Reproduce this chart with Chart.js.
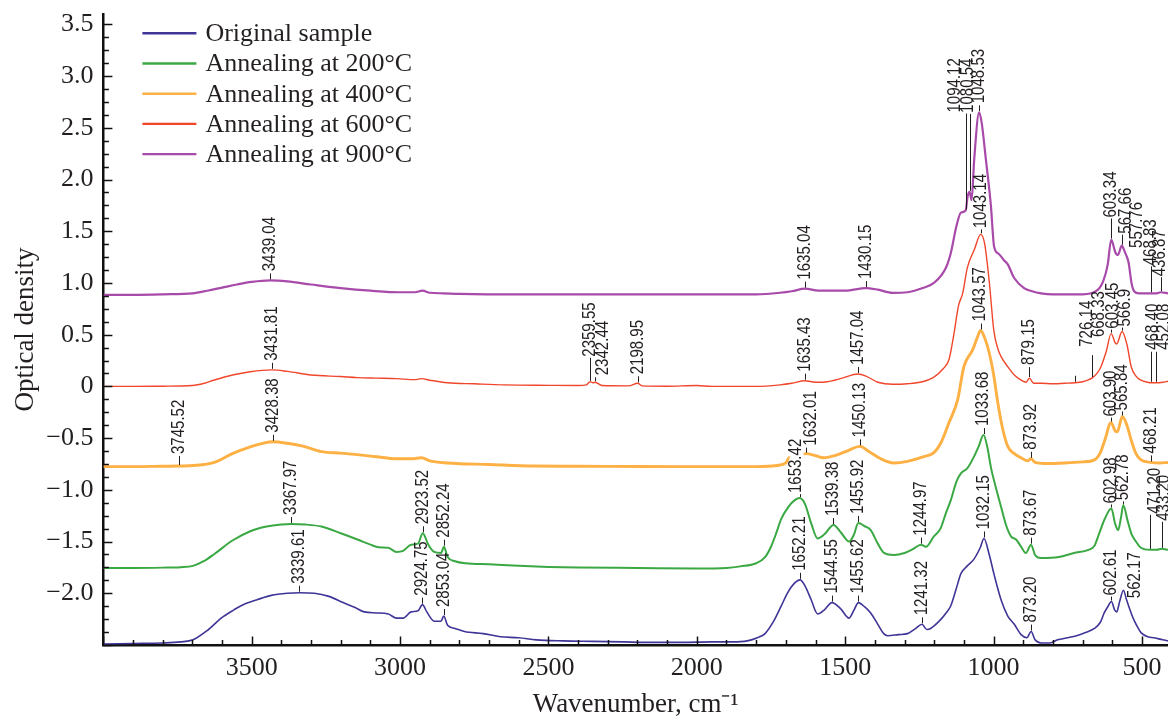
<!DOCTYPE html>
<html>
<head>
<meta charset="utf-8">
<script src="https://cdn.jsdelivr.net/npm/chart.js@4.4.1/dist/chart.umd.min.js"></script>
<style>
  html, body { margin: 0; padding: 0; background: #ffffff; }
  canvas { display: block; }
</style>
</head>
<body>
<canvas id="c" width="1168" height="718"></canvas>
<script>
// ---------------- DATA ----------------
const seriesNames = ['Original sample', 'Annealing at 200°C', 'Annealing at 400°C', 'Annealing at 600°C', 'Annealing at 900°C'];

const xTickValues = [3500, 3000, 2500, 2000, 1500, 1000, 500];
const yTickValues = [-2.0, -1.5, -1.0, -0.5, 0, 0.5, 1.0, 1.5, 2.0, 2.5, 3.0, 3.5];

// Original sample
const wnOrig = [4000, 3900, 3800, 3740, 3698, 3650, 3603, 3560, 3529, 3480, 3434, 3380, 3339.61, 3289, 3240, 3192, 3150, 3121, 3080, 3040, 3012, 2990, 2963, 2940, 2924.75, 2910, 2885, 2862, 2853.04, 2840, 2815, 2783, 2720, 2662, 2600, 2541, 2450, 2350, 2250, 2150, 2050, 1950, 1880, 1830, 1796, 1770, 1741, 1715, 1695, 1670, 1652.21, 1635, 1615, 1593, 1570, 1544.55, 1515, 1487, 1470, 1455.62, 1435, 1414, 1390, 1370, 1357, 1320, 1290, 1262, 1241.32, 1225, 1212, 1180, 1160, 1144, 1125, 1110, 1090, 1066, 1045, 1032.15, 1015, 998, 975, 952, 930, 907, 888, 873.20, 860, 840, 810, 784, 750, 720, 690, 660, 640, 627, 615, 602.61, 592, 585, 575, 562.17, 552, 545, 535, 525, 512, 503, 480, 458, 430, 412];
const odOrig = [-2.49, -2.485, -2.48, -2.47, -2.45, -2.36, -2.24, -2.16, -2.11, -2.06, -2.02, -2.0, -1.995, -2.0, -2.03, -2.09, -2.14, -2.18, -2.19, -2.20, -2.24, -2.24, -2.18, -2.17, -2.11, -2.18, -2.27, -2.27, -2.22, -2.31, -2.34, -2.37, -2.39, -2.42, -2.43, -2.45, -2.46, -2.465, -2.47, -2.475, -2.475, -2.47, -2.47, -2.46, -2.43, -2.39, -2.27, -2.12, -2.0, -1.90, -1.87, -1.93, -2.06, -2.20, -2.16, -2.09, -2.15, -2.24, -2.16, -2.09, -2.13, -2.19, -2.30, -2.39, -2.41, -2.40, -2.39, -2.34, -2.30, -2.35, -2.34, -2.26, -2.19, -2.12, -1.95, -1.81, -1.74, -1.67, -1.56, -1.47, -1.62, -1.82, -2.06, -2.22, -2.30, -2.40, -2.43, -2.37, -2.45, -2.48, -2.48, -2.45, -2.43, -2.41, -2.38, -2.34, -2.28, -2.19, -2.13, -2.08, -2.16, -2.18, -2.08, -1.97, -2.06, -2.12, -2.20, -2.27, -2.34, -2.38, -2.42, -2.43, -2.45, -2.46];

// Annealing at 200 °C
const wn200 = [4000, 3900, 3800, 3740, 3698, 3662, 3626, 3565, 3505, 3450, 3400, 3367.97, 3320, 3265, 3200, 3144, 3100, 3072, 3040, 3012, 2990, 2963, 2940, 2923.52, 2905, 2885, 2862, 2852.24, 2840, 2815, 2780, 2700, 2600, 2500, 2400, 2200, 2000, 1900, 1853, 1800, 1770, 1750, 1730, 1717, 1690, 1670, 1653.42, 1635, 1615, 1593, 1570, 1539.38, 1515, 1487, 1470, 1455.92, 1435, 1414, 1390, 1369, 1336, 1300, 1270, 1244.97, 1228, 1201, 1178, 1160, 1144, 1125, 1110, 1088, 1066, 1050, 1033.68, 1020, 1009, 992, 975, 958, 941, 924, 907, 891, 873.67, 860, 840, 780, 729, 680, 660, 645, 625, 602.98, 590, 580, 570, 562.78, 548, 536, 520, 503, 471.20, 450, 433.20, 412];
const od200 = [-1.755, -1.755, -1.752, -1.748, -1.735, -1.69, -1.62, -1.49, -1.40, -1.355, -1.335, -1.33, -1.335, -1.355, -1.42, -1.48, -1.53, -1.555, -1.56, -1.60, -1.59, -1.53, -1.52, -1.42, -1.53, -1.60, -1.61, -1.55, -1.65, -1.69, -1.71, -1.72, -1.735, -1.745, -1.75, -1.755, -1.76, -1.755, -1.74, -1.71, -1.65, -1.55, -1.40, -1.29, -1.16, -1.10, -1.08, -1.14, -1.32, -1.47, -1.43, -1.34, -1.41, -1.50, -1.43, -1.32, -1.35, -1.39, -1.52, -1.61, -1.63, -1.61, -1.57, -1.53, -1.55, -1.45, -1.37, -1.22, -1.10, -0.92, -0.84, -0.79, -0.68, -0.58, -0.47, -0.60, -0.78, -0.98, -1.16, -1.34, -1.45, -1.48, -1.55, -1.61, -1.53, -1.63, -1.66, -1.65, -1.61, -1.58, -1.54, -1.43, -1.28, -1.18, -1.33, -1.39, -1.26, -1.15, -1.30, -1.42, -1.50, -1.56, -1.58, -1.58, -1.57, -1.58];

// Annealing at 400 °C
const wn400 = [4000, 3900, 3800, 3745.52, 3700, 3660, 3626, 3565, 3505, 3460, 3428.38, 3380, 3324, 3265, 3200, 3144, 3080, 3012, 2960, 2928, 2900, 2840, 2700, 2550, 2400, 2200, 2000, 1800, 1730, 1700, 1689, 1660, 1632.01, 1600, 1572, 1530, 1490, 1450.13, 1420, 1380, 1336, 1290, 1235, 1201, 1178, 1150, 1121, 1100, 1071, 1055, 1043.57, 1030, 1015, 1000, 986, 970, 952, 930, 907, 885, 873.92, 860, 830, 760, 700, 660, 640, 625, 603.90, 590, 583, 565.84, 550, 536, 520, 503, 468.21, 440, 412];
const od400 = [-0.776, -0.776, -0.772, -0.77, -0.765, -0.755, -0.735, -0.65, -0.585, -0.548, -0.535, -0.55, -0.58, -0.63, -0.645, -0.66, -0.68, -0.70, -0.70, -0.69, -0.72, -0.74, -0.755, -0.77, -0.772, -0.775, -0.776, -0.776, -0.765, -0.74, -0.69, -0.67, -0.65, -0.67, -0.69, -0.665, -0.62, -0.58, -0.63, -0.70, -0.74, -0.725, -0.68, -0.64, -0.55, -0.35, -0.13, 0.19, 0.35, 0.47, 0.54, 0.47, 0.33, 0.12, -0.15, -0.40, -0.58, -0.65, -0.69, -0.72, -0.70, -0.735, -0.745, -0.74, -0.73, -0.71, -0.64, -0.52, -0.35, -0.43, -0.44, -0.29, -0.38, -0.52, -0.65, -0.71, -0.735, -0.74, -0.735];

// Annealing at 600 °C
const wn600 = [4000, 3900, 3800, 3700, 3660, 3626, 3565, 3505, 3431.81, 3380, 3300, 3200, 3144, 3080, 3012, 2950, 2928, 2900, 2840, 2750, 2650, 2500, 2400, 2372, 2359.55, 2350, 2342.44, 2320, 2230, 2198.95, 2185, 2100, 2000, 1950, 1800, 1720, 1680, 1635.43, 1600, 1560, 1510, 1457.04, 1430, 1390, 1340, 1290, 1240, 1201, 1170, 1150, 1135, 1118, 1104, 1088, 1065, 1043.14, 1030, 1014, 999, 985, 975, 952, 930, 907, 890, 879.15, 865, 840, 800, 760, 726.14, 700, 683, 668.33, 650, 638, 620, 603.45, 590, 585, 566.9, 550, 536, 520, 503, 480, 468.40, 452.08, 430, 412];
const od600 = [0.0, 0.0, 0.002, 0.008, 0.03, 0.062, 0.11, 0.142, 0.16, 0.145, 0.11, 0.095, 0.085, 0.08, 0.075, 0.065, 0.075, 0.06, 0.035, 0.025, 0.015, 0.01, 0.008, 0.015, 0.045, 0.035, 0.04, 0.008, 0.005, 0.03, 0.005, 0.002, 0.008, 0.0, 0.0, 0.015, 0.03, 0.055, 0.04, 0.045, 0.08, 0.12, 0.10, 0.04, 0.02, 0.025, 0.045, 0.09, 0.17, 0.26, 0.48, 0.78, 0.90, 1.15, 1.32, 1.47, 1.38, 1.00, 0.54, 0.36, 0.29, 0.19, 0.11, 0.06, 0.04, 0.08, 0.03, 0.03, 0.025, 0.03, 0.035, 0.045, 0.06, 0.08, 0.13, 0.19, 0.34, 0.51, 0.42, 0.41, 0.53, 0.40, 0.19, 0.10, 0.06, 0.04, 0.035, 0.035, 0.04, 0.05];

// Annealing at 900 °C
const wn900 = [4000, 3900, 3800, 3700, 3650, 3600, 3550, 3500, 3439.04, 3380, 3300, 3200, 3100, 3000, 2950, 2925, 2900, 2855, 2800, 2600, 2400, 2200, 2000, 1800, 1720, 1680, 1635.04, 1590, 1500, 1430.15, 1390, 1340, 1290, 1240, 1201, 1160, 1144, 1125, 1110, 1094.12, 1087, 1080.54, 1074, 1065, 1048.53, 1040, 1026, 1009, 998, 982, 965, 952, 931, 897, 870, 840, 800, 700, 650, 630, 615, 603.34, 590, 581, 567.66, 557.76, 545, 535, 526, 510, 490, 468.83, 450, 436.87, 412];
const od900 = [0.885, 0.885, 0.89, 0.90, 0.925, 0.955, 0.985, 1.01, 1.025, 1.015, 0.985, 0.95, 0.925, 0.91, 0.91, 0.925, 0.905, 0.90, 0.895, 0.89, 0.89, 0.89, 0.89, 0.89, 0.905, 0.92, 0.945, 0.925, 0.925, 0.95, 0.935, 0.905, 0.91, 0.95, 1.00, 1.15, 1.29, 1.55, 1.68, 1.70, 1.84, 1.88, 1.80, 2.20, 2.65, 2.55, 2.20, 1.75, 1.35, 1.28, 1.22, 1.18, 1.05, 0.95, 0.92, 0.90, 0.89, 0.89, 0.93, 1.02, 1.18, 1.42, 1.30, 1.27, 1.36, 1.30, 1.20, 1.00, 0.92, 0.90, 0.90, 0.90, 0.90, 0.91, 0.90];

// Peak labels (the label text is the peak wavenumber)
const peaksOrig = ['3339.61', '2924.75', '2853.04', '1652.21', '1544.55', '1455.62', '1241.32', '1032.15', '873.20', '602.61', '562.17'];
const peaks200 = ['3367.97', '2923.52', '2852.24', '1653.42', '1539.38', '1455.92', '1244.97', '1033.68', '873.67', '602.98', '562.78', '471.20', '433.20'];
const peaks400 = ['3745.52', '3428.38', '1632.01', '1450.13', '1043.57', '873.92', '603.90', '565.84', '468.21'];
const peaks600 = ['3431.81', '2359.55', '2342.44', '2198.95', '1635.43', '1457.04', '1043.14', '879.15', '726.14', '668.33', '603.45', '566.9', '468.40', '452.08'];
const peaks900 = ['3439.04', '1635.04', '1430.15', '1094.12', '1080.54', '1048.53', '603.34', '567.66', '557.76', '468.83', '436.87'];

// ---------------- STYLE ----------------
const seriesColors = ['#3f3597', '#3aa843', '#fdb043', '#f0462b', '#a84aa9'];
const seriesWidths = [1.6, 2.0, 2.9, 1.4, 2.2];
const serif = '"Liberation Serif", "Times New Roman", serif';
const inkColor = '#231f20';

// label placement tweaks: dx (text shift), lift (text start above curve), lead (leader length), bg (white box)
const labelLayout = {
  '0:602.61': {lift: 6, lead: 4},
  '0:562.17': {dx: 12, lift: -8, lead: 0},
  '1:1653.42': {dx: -3, lift: 5, lead: 3, bg: true},
  '1:602.98': {lift: 5, lead: 3},
  '1:562.78': {lift: 5, lead: 3},
  '1:471.20': {dx: 5, lift: 36, lead: 34},
  '1:433.20': {dx: 2, lift: 28, lead: 26},
  '2:3745.52': {lift: 12, lead: 9},
  '2:1632.01': {dx: 5, lift: 8, lead: 5},
  '2:603.90': {lift: 6, lead: 4},
  '2:565.84': {lift: 6, lead: 4},
  '3:2359.55': {lift: 25, lead: 23},
  '3:2342.44': {dx: 8, lift: 7, lead: 4},
  '3:1043.14': {lift: 6, lead: 4},
  '3:879.15': {lift: 13, lead: 10},
  '3:726.14': {dx: 12, lift: 36, lead: 6},
  '3:668.33': {dx: 7, lift: 41, lead: 22},
  '3:603.45': {dx: 2, lift: 5, lead: 3},
  '3:566.9': {dx: 3, lift: 5, lead: 3},
  '3:468.40': {dx: 2, lift: 33, lead: 30},
  '3:452.08': {dx: 8, lift: 33, lead: 30},
  '4:1094.12': {dx: -10, lift: 98, lead: 96},
  '4:1080.54': {dx: -1, lift: 79, lead: 77},
  '4:603.34': {lift: 22, lead: 20},
  '4:567.66': {dx: 4, lift: 12, lead: 10},
  '4:557.76': {dx: 12, lift: 4, lead: 0},
  '4:468.83': {lift: 28, lead: 26},
  '4:436.87': {lift: 16, lead: 14}
};

const seriesWn = [wnOrig, wn200, wn400, wn600, wn900];
const seriesOd = [odOrig, od200, od400, od600, od900];
const seriesPeaks = [peaksOrig, peaks200, peaks400, peaks600, peaks900];

function interp(wns, ods, w) {
  for (let i = 0; i < wns.length - 1; i++) {
    const a = wns[i], b = wns[i + 1];
    if ((w <= a && w >= b) || (w >= a && w <= b)) {
      const t = (a === b) ? 0 : (w - a) / (b - a);
      return ods[i] + t * (ods[i + 1] - ods[i]);
    }
  }
  return ods[ods.length - 1];
}

// ---------------- PLUGINS ----------------
const whiteBg = {
  id: 'whiteBg',
  beforeDraw(chart) {
    const ctx = chart.ctx;
    ctx.save();
    ctx.fillStyle = '#ffffff';
    ctx.fillRect(0, 0, chart.width, chart.height);
    ctx.restore();
  }
};

const innerTicks = {
  id: 'innerTicks',
  afterDraw(chart) {
    const {ctx, chartArea, scales: {x, y}} = chart;
    ctx.save();
    ctx.strokeStyle = '#111';
    ctx.lineWidth = 1.5;
    ctx.beginPath();
    for (let k = 0; ; k++) {
      const v = y.min + k * 0.125;
      if (v > y.max + 1e-9) break;
      const major = Math.abs(v * 2 - Math.round(v * 2)) < 1e-6;
      const py = Math.round(y.getPixelForValue(v)) + 0.5;
      ctx.moveTo(chartArea.left, py);
      ctx.lineTo(chartArea.left + (major ? 9 : 5.5), py);
    }
    for (let w = 4000; w >= x.min; w -= 100) {
      const major = w % 500 === 0;
      const px = Math.round(x.getPixelForValue(w)) + 0.5;
      ctx.moveTo(px, chartArea.bottom);
      ctx.lineTo(px, chartArea.bottom - (major ? 8.5 : 5));
    }
    ctx.stroke();
    ctx.restore();
  }
};

const peakLabels = {
  id: 'peakLabels',
  afterDatasetsDraw(chart) {
    const {ctx, scales: {x, y}} = chart;
    ctx.save();
    ctx.font = '17.5px "Liberation Sans", Arial, sans-serif';
    seriesPeaks.forEach((labels, si) => {
      labels.forEach(lbl => {
        const w = parseFloat(lbl);
        const v = interp(seriesWn[si], seriesOd[si], w);
        const px = x.getPixelForValue(w);
        const py = y.getPixelForValue(v);
        const L = Object.assign({dx: 0, lift: 9, lead: 6, bg: false}, labelLayout[si + ':' + lbl] || {});
        if (L.lead > 0) {
          ctx.strokeStyle = inkColor;
          ctx.lineWidth = 1;
          ctx.beginPath();
          const lx = Math.round(px) + 0.5;
          ctx.moveTo(lx, py - 1);
          ctx.lineTo(lx, py - 1 - L.lead);
          ctx.stroke();
        }
        ctx.save();
        ctx.translate(px + L.dx, py - L.lift);
        ctx.rotate(-Math.PI / 2);
        ctx.scale(0.86, 1);
        const tw = ctx.measureText(lbl).width;
        if (L.bg) {
          ctx.fillStyle = '#ffffff';
          ctx.fillRect(-1, -7, tw + 2, 14);
        }
        ctx.fillStyle = inkColor;
        ctx.textAlign = 'left';
        ctx.textBaseline = 'middle';
        ctx.fillText(lbl, 0, 0);
        ctx.restore();
      });
    });
    ctx.restore();
  }
};

const customLegend = {
  id: 'customLegend',
  afterDraw(chart) {
    const {ctx, chartArea} = chart;
    ctx.save();
    ctx.font = '26px ' + serif;
    ctx.textBaseline = 'middle';
    ctx.textAlign = 'left';
    chart.data.datasets.forEach((ds, i) => {
      const yy = chartArea.top + 19.3 + i * 30.2;
      ctx.strokeStyle = ds.borderColor;
      ctx.lineWidth = 2.4;
      ctx.beginPath();
      ctx.moveTo(chartArea.left + 39, yy);
      ctx.lineTo(chartArea.left + 93, yy);
      ctx.stroke();
      ctx.fillStyle = inkColor;
      ctx.fillText(ds.label, chartArea.left + 102, yy + 1);
    });
    ctx.restore();
  }
};

// ---------------- CHART ----------------
const datasets = seriesNames.map((name, i) => ({
  label: name,
  data: seriesWn[i].map((w, j) => ({x: w, y: seriesOd[i][j]})),
  borderColor: seriesColors[i],
  backgroundColor: seriesColors[i],
  borderWidth: seriesWidths[i],
  pointRadius: 0,
  fill: false,
  cubicInterpolationMode: 'monotone',
  order: i
}));

new Chart(document.getElementById('c'), {
  type: 'line',
  data: {datasets},
  plugins: [whiteBg, peakLabels, innerTicks, customLegend],
  options: {
    responsive: false,
    animation: false,
    events: [],
    parsing: false,
    normalized: true,
    layout: {padding: {top: 14, right: 0, bottom: 0, left: 0}},
    plugins: {legend: {display: false}, tooltip: {enabled: false}},
    scales: {
      x: {
        type: 'linear',
        reverse: true,
        min: 412,
        max: 4000,
        afterBuildTicks: s => { s.ticks = xTickValues.map(v => ({value: v})); },
        afterFit: s => { s.height = 73; s.paddingLeft = 0; s.paddingRight = 0; },
        grid: {display: false, drawTicks: false},
        border: {display: true, color: '#111', width: 2.5},
        ticks: {
          autoSkip: false, maxRotation: 0, padding: 8, color: inkColor,
          font: {family: serif, size: 26},
          callback: v => String(v)
        },
        title: {
          display: true, text: 'Wavenumber, cm\u207B\u00B9', color: inkColor,
          font: {family: serif, size: 27, lineHeight: 1.0},
          padding: {top: 0, bottom: 0}
        }
      },
      y: {
        type: 'linear',
        min: -2.5,
        max: 3.6,
        afterBuildTicks: s => { s.ticks = yTickValues.map(v => ({value: v})); },
        afterFit: s => { s.width = 103.4; s.paddingTop = 0; s.paddingBottom = 0; },
        grid: {display: false, drawTicks: false},
        border: {display: true, color: '#111', width: 2.5},
        ticks: {
          autoSkip: false, padding: 10, color: inkColor,
          font: {family: serif, size: 26},
          callback: v => v === 0 ? '0' : (v < 0 ? '\u2212' : '') + Math.abs(v).toFixed(1)
        },
        title: {
          display: true, text: 'Optical density', color: inkColor,
          font: {family: serif, size: 27, lineHeight: 1.0},
          padding: {top: 12, bottom: 0}
        }
      }
    }
  }
});
</script>
</body>
</html>
